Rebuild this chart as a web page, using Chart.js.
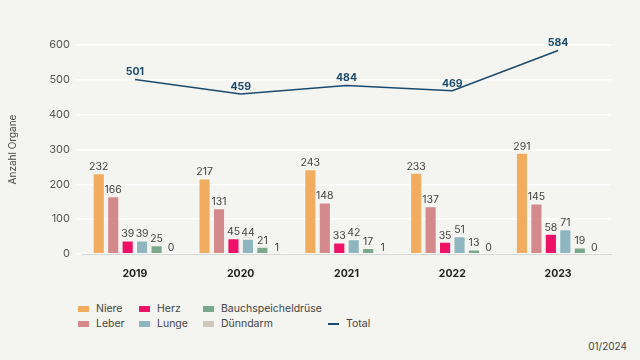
<!DOCTYPE html>
<html>
<head>
<meta charset="utf-8">
<script src="https://cdn.jsdelivr.net/npm/chart.js@4/dist/chart.umd.min.js"></script>
<style>
  body { margin: 0; background: #f4f4f0; font-family: Inter, "Noto Sans", sans-serif; }
  #wrap { position: relative; width: 640px; height: 360px; }
  #box { position: absolute; left: 0; top: 0; width: 640px; height: 285px; }
  #legend { position: absolute; left: 78px; top: 302px; width: 320px; height: 40px; font-size: 10.5px; color: #444; }
  .item { position: absolute; display: flex; align-items: center; white-space: nowrap; }
  .sw { width: 11px; height: 6px; margin-right: 7px; }
  .ln { width: 11px; height: 2px; margin-right: 7px; }
  #date { position: absolute; right: 13px; top: 340px; font-size: 10px; color: #444; }
</style>
</head>
<body>
<div id="wrap">
  <div id="box"><canvas id="chart"></canvas></div>
  <div id="legend"></div>
  <div id="date">01/2024</div>
</div>
<script>
const years = ['2019', '2020', '2021', '2022', '2023'];
const organs = ['Niere', 'Leber', 'Herz', 'Lunge', 'Bauchspeicheldrüse', 'Dünndarm'];
const niere = [232, 217, 243, 233, 291];
const leber = [166, 131, 148, 137, 145];
const herz = [39, 45, 33, 35, 58];
const lunge = [39, 44, 42, 51, 71];
const bauch = [25, 21, 17, 13, 19];
const duenndarm = [0, 1, 1, 0, 0];
const total = [501, 459, 484, 469, 584];
const yTicks = [0, 100, 200, 300, 400, 500, 600];

const organColors = ['#f2ac60', '#d4898b', '#ee1166', '#8fb6c0', '#79a98a', '#cdc8b8'];
const lineColor = '#1b4a6e';
const organValues = [niere, leber, herz, lunge, bauch, duenndarm];

// draws the numbers above bars and line points
const valueLabels = {
    id: 'valueLabels',
    afterDatasetsDraw(chart) {
        const ctx = chart.ctx;
        ctx.save();
        ctx.textAlign = 'center';
        ctx.textBaseline = 'bottom';
        chart.data.datasets.forEach((ds, i) => {
            const meta = chart.getDatasetMeta(i);
            meta.data.forEach((el, j) => {
                if (ds.type === 'line') {
                    ctx.font = 'bold 10.5px Inter, sans-serif';
                    ctx.fillStyle = lineColor;
                    ctx.fillText(ds.data[j], el.x, el.y - 2);
                } else {
                    ctx.font = '10.5px Inter, sans-serif';
                    ctx.fillStyle = '#444';
                    ctx.fillText(ds.data[j], el.x, el.y - 1);
                }
            });
        });
        ctx.restore();
    }
};

const datasets = organs.map((name, i) => ({
    type: 'bar',
    label: name,
    data: organValues[i],
    backgroundColor: organColors[i],
    borderColor: 'rgba(255,255,255,0.35)',
    borderWidth: 1,
    categoryPercentage: 0.82,
    barPercentage: 0.84,
    order: 2
}));
datasets.push({
    type: 'line',
    label: 'Total',
    data: total,
    borderColor: lineColor,
    borderWidth: 1.5,
    pointRadius: 0,
    tension: 0,
    order: 1
});

new Chart(document.getElementById('chart'), {
    data: { labels: years, datasets: datasets },
    options: {
        responsive: true,
        maintainAspectRatio: false,
        animation: false,
        layout: { padding: { top: 45, right: 29, left: 7, bottom: 0 } },
        plugins: { legend: { display: false }, tooltip: { enabled: false } },
        scales: {
            x: {
                grid: { display: false },
                border: { color: '#d6d6d2' },
                ticks: { color: '#222', font: { family: 'Inter', size: 10.5, weight: 'bold' }, padding: 6 },
                afterFit: s => { s.height = 31; }
            },
            y: {
                min: 0,
                max: 600,
                afterBuildTicks: s => { s.ticks = yTicks.map(v => ({ value: v })); },
                grid: { color: '#ffffff', lineWidth: 1.5, tickLength: 6, tickColor: '#ffffff' },
                border: { display: false },
                ticks: { color: '#555', font: { family: 'Inter', size: 11 }, padding: 6 },
                title: { display: true, text: 'Anzahl Organe', color: '#444', font: { family: 'Inter', size: 10 }, padding: { top: 0, bottom: 0 } },
                afterFit: s => { s.width = 75; }
            }
        }
    },
    plugins: [valueLabels]
});

// legend laid out like the original
const legendPos = [[0, 0], [0, 15], [61, 0], [61, 15], [125, 0], [125, 15]];
const legend = document.getElementById('legend');
organs.forEach((name, i) => {
    const d = document.createElement('div');
    d.className = 'item';
    d.style.left = legendPos[i][0] + 'px';
    d.style.top = legendPos[i][1] + 'px';
    d.innerHTML = `<span class="sw" style="background:${organColors[i]}"></span>${name}`;
    legend.appendChild(d);
});
const t = document.createElement('div');
t.className = 'item';
t.style.left = '250px';
t.style.top = '15px';
t.innerHTML = `<span class="ln" style="background:${lineColor}"></span>Total`;
legend.appendChild(t);
</script>
</body>
</html>
